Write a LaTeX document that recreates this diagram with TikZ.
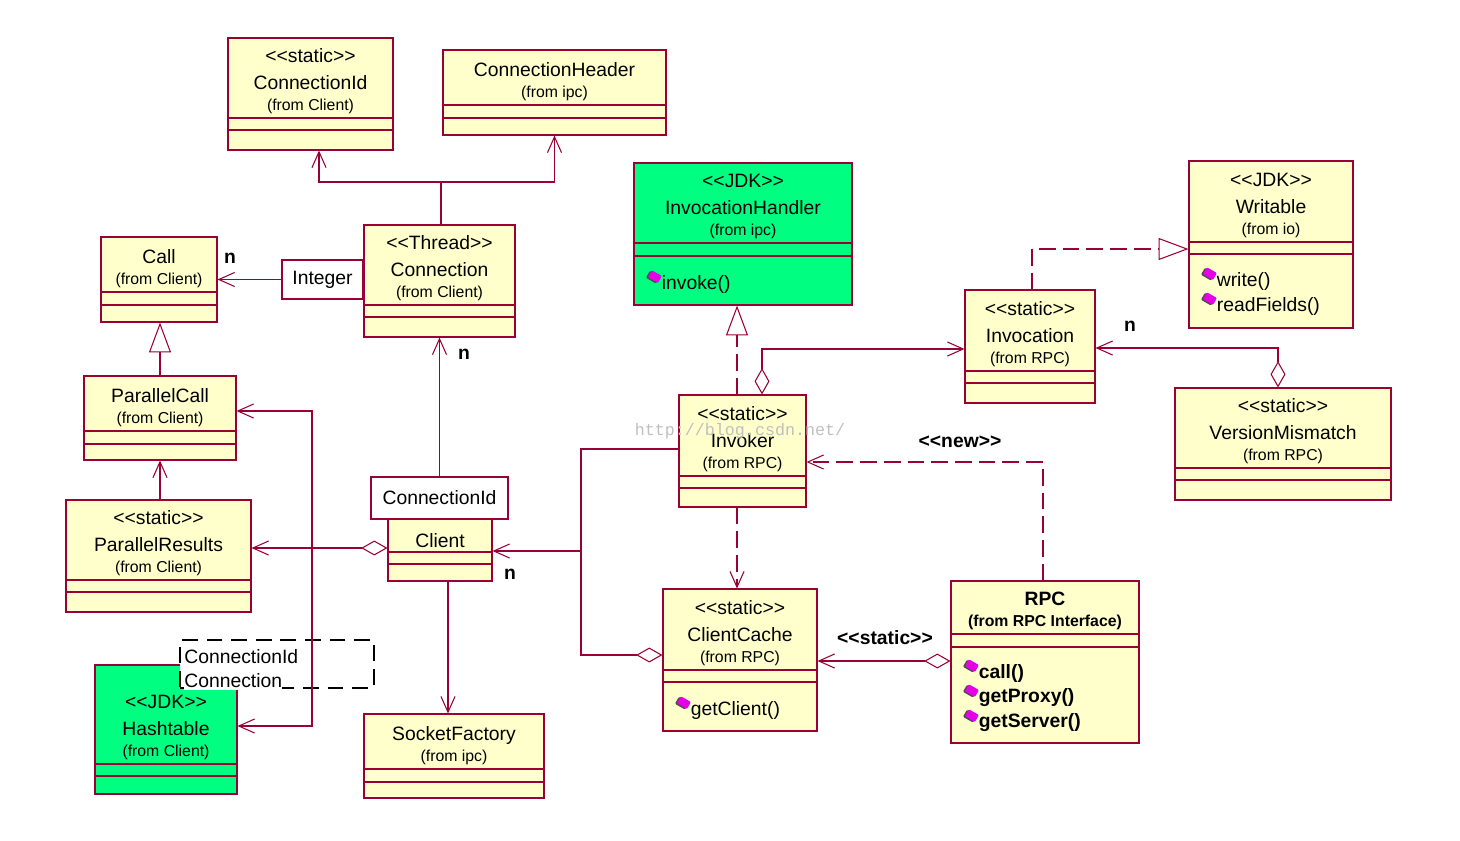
\documentclass[tikz,border=0pt]{standalone}
\usepackage{fontspec}
\setmainfont{Liberation Sans}[Ligatures=TeXOff]
\newfontfamily\markfont{Liberation Mono}
\usetikzlibrary{arrows.meta,fit}

\definecolor{umlred}{RGB}{153,0,51}
\definecolor{umlyellow}{RGB}{255,255,204}
\definecolor{umlgreen}{RGB}{0,255,128}
\definecolor{iconpink}{RGB}{230,0,230}

\newcommand{\stereo}[1]{<<#1>>}
\newcommand{\fromp}[1]{{\fontsize{9}{15}\selectfont(from #1)}}
\newcommand{\fromb}[1]{{\fontsize{9}{15}\selectfont\bfseries(from #1)}}

% class box: [fill]{name}{x1,y1}{x2,y2}{line1}{line2}{header}
\newcommand{\umlclass}[7][classfill]{%
  \node[classbox,#1,fit={(#3) (#4)}] (#2) {};
  \draw[umlline] (#2.west |- 0,#5) -- (#2.east |- 0,#5)
                 (#2.west |- 0,#6) -- (#2.east |- 0,#6);
  \node[header] (#2-hd) at (#2.center |- 0,#5) {#7};
}
% operation: [font]{class}{y}{text}
\newcommand{\umlmeth}[4][]{%
  \path (#2.west |- 0,#3) ++(21,-7) pic {methicon};
  \path (#2.west |- 0,#3) ++(28,0) node[methtext,#1] (#2-m#3) {#4};
}

\tikzset{
  umlline/.style={draw=umlred,line width=0.6pt},
  classbox/.style={umlline,inner sep=0pt},
  classfill/.style={fill=umlyellow},
  jdkfill/.style={fill=umlgreen},
  header/.style={align=center,inner sep=0pt,anchor=south,yshift=2.4pt,
    font=\fontsize{11}{15}\selectfont},
  methtext/.style={anchor=west,inner sep=0pt,font=\fontsize{11}{13}\selectfont},
  qualbox/.style={umlline,fill=white,inner sep=0pt},
  qlabel/.style={inner sep=0pt,font=\fontsize{11}{13}\selectfont},
  dqual/.style={draw=black,line width=0.6pt,dash pattern=on 9pt off 5pt,fill=white,inner sep=0pt},
  qtext/.style={anchor=west,fill=white,inner xsep=0pt,inner ysep=1pt,font=\fontsize{11}{13}\selectfont},
  mult/.style={inner sep=0pt,font=\fontsize{11}{13}\selectfont\bfseries},
  stlabel/.style={inner sep=0pt,font=\fontsize{11}{13}\selectfont\bfseries},
  wmark/.style={inner sep=0pt,text=black!25,font=\markfont\fontsize{9.5}{11}\selectfont},
  methicon/.pic={
    \fill[black!70,rotate=-30,rounded corners=0.6pt] (-4pt,-2.8pt) rectangle (2.6pt,1.8pt);
    \fill[iconpink,rotate=-30,rounded corners=0.6pt] (-3.2pt,-2pt) rectangle (3.4pt,2.6pt);
  },
  assoc/.style={umlline,-{Straight Barb[length=9pt,width=8pt]}},
  bothway/.style={umlline,{Straight Barb[length=9pt,width=8pt]}-{Straight Barb[length=9pt,width=8pt]}},
  aggr/.style={umlline,{Diamond[open,length=15pt,width=8.5pt]}-{Straight Barb[length=9pt,width=8pt]}},
  gen/.style={umlline,-{Triangle[open,length=17pt,width=12.5pt]}},
  real/.style={gen,dash pattern=on 9.5pt off 4pt},
  dep/.style={assoc,dash pattern=on 9.5pt off 4pt},
}

\begin{document}
\begin{tikzpicture}[x=0.02cm,y=-0.02cm]
\useasboundingbox (0,0) rectangle (1460,840);

% Client side
\umlclass{connid}{228,38}{393,150}{118}{130}{\stereo{static}\\ConnectionId\\[-3pt]\fromp{Client}}
\umlclass{connhdr}{443,50}{666,135}{105}{118}{ConnectionHeader\\[-3pt]\fromp{ipc}}
\umlclass{call}{101,237}{217,322}{292}{305}{Call\\[-3pt]\fromp{Client}}
\umlclass{connection}{364,225}{515,337}{305}{317}{\stereo{Thread}\\Connection\\[-3pt]\fromp{Client}}
\umlclass{pcall}{84,376}{236,460}{431}{444}{ParallelCall\\[-3pt]\fromp{Client}}
\umlclass{presults}{66,500}{251,612}{580}{592}{\stereo{static}\\ParallelResults\\[-3pt]\fromp{Client}}
\umlclass{client}{388,519}{492,581}{552}{564}{Client}
\umlclass[jdkfill]{hashtable}{95,665}{237,794}{764}{776}{\stereo{JDK}\\Hashtable\\[-3pt]\fromp{Client}}
\umlclass{sfactory}{364,714}{544,798}{769}{782}{SocketFactory\\[-3pt]\fromp{ipc}}

\node[qualbox,fit={(282,260) (363,299)}] (integer) {};
\node[qlabel] (integer-t) at (integer.center) {Integer};
\node[qualbox,fit={(371,477) (508,519)}] (cidq) {};
\node[qlabel] (cidq-t) at (cidq.center) {ConnectionId};
\node[dqual,fit={(180,640) (374,688)}] (hqual) {};
\node[qtext] (hq1) at (184,657) {ConnectionId};
\node[qtext] (hq2) at (184,681) {Connection};

% RPC side
\umlclass[jdkfill]{ihandler}{634,163}{852,305}{243}{256}{\stereo{JDK}\\InvocationHandler\\[-3pt]\fromp{ipc}}
\umlmeth{ihandler}{284}{invoke()}
\umlclass{invoker}{679,395}{806,507}{476}{488}{\stereo{static}\\Invoker\\[-3pt]\fromp{RPC}}
\umlclass{invocation}{965,290}{1095,403}{371}{383}{\stereo{static}\\Invocation\\[-3pt]\fromp{RPC}}
\umlclass{writable}{1189,161}{1353,328}{242}{254}{\stereo{JDK}\\Writable\\[-3pt]\fromp{io}}
\umlmeth{writable}{281}{write()}
\umlmeth{writable}{306}{readFields()}
\umlclass{vmismatch}{1175,388}{1391,500}{468}{480}{\stereo{static}\\VersionMismatch\\[-3pt]\fromp{RPC}}
\umlclass{ccache}{663,589}{817,731}{670}{682}{\stereo{static}\\ClientCache\\[-3pt]\fromp{RPC}}
\umlmeth{ccache}{710}{getClient()}
\umlclass{rpc}{951,581}{1139,743}{634}{647}{\textbf{RPC}\\[-3pt]\fromb{RPC Interface}}
\umlmeth[font=\fontsize{11}{13}\selectfont\bfseries]{rpc}{673}{call()}
\umlmeth[font=\fontsize{11}{13}\selectfont\bfseries]{rpc}{698}{getProxy()}
\umlmeth[font=\fontsize{11}{13}\selectfont\bfseries]{rpc}{723}{getServer()}

% connectors
\coordinate (cjoin) at (441,182);
\coordinate (hbend) at (312,726);
\coordinate (cjn) at (581,551);
\draw[assoc] (integer.west) -- (integer.west -| call.east);
\draw[assoc] (cjoin |- connection.north) -- (cjoin) -| (319,0 |- connid.south);
\draw[assoc] (cjoin) -| (connhdr.south);
\draw[assoc] (cidq.north) -- (connection.south);
\draw[gen] (pcall.north) -- (pcall.north |- call.south);
\draw[assoc] (pcall.south |- presults.north) -- (pcall.south);
\draw[aggr] (client.west |- 0,548) -- (presults.east |- 0,548);
\draw[bothway] (pcall.east |- 0,411) -| (hbend) -- (hbend -| hashtable.east);
\draw[assoc] (448,0 |- client.south) -- (448,0 |- sfactory.north);
\draw[aggr] (ccache.west |- 0,655) -| (cjn) -- (cjn -| client.east);
\draw[umlline] (invoker.west |- 0,449) -| (cjn);
\draw[real] (737,0 |- invoker.north) -- (737,0 |- ihandler.south);
\draw[aggr] (762,0 |- invoker.north) |- (invocation.west |- 0,349);
\draw[real] (1032,0 |- invocation.north) |- (writable.west |- 0,249);
\draw[aggr] (1278,0 |- vmismatch.north) |- (invocation.east |- 0,348);
\draw[dep] (737,0 |- invoker.south) -- (737,0 |- ccache.north);
\draw[aggr] (rpc.west |- 0,661) -- (ccache.east |- 0,661);
\draw[dep] (1043,0 |- rpc.north) |- (invoker.east |- 0,462);

\node[mult] (n1) at (230,258) {n};
\node[mult] (n2) at (464,354) {n};
\node[mult] (n3) at (510,574) {n};
\node[mult] (n4) at (1130,326) {n};
\node[stlabel] (lstatic) at (885,638) {<<static>>};
\node[stlabel] (lnew) at (960,442) {<<new>>};

\node[wmark] (wm) at (740,431) {http://blog.csdn.net/};
\end{tikzpicture}
\end{document}
